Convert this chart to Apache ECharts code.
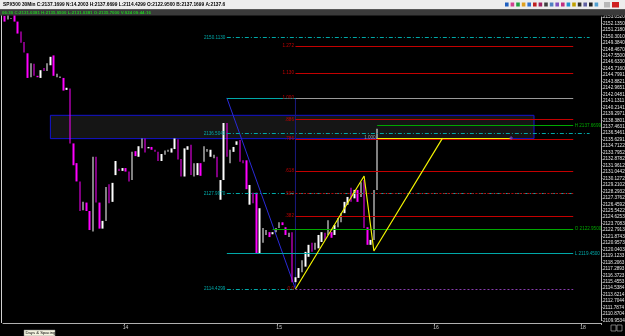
<!DOCTYPE html>
<html>
<head>
<meta charset="utf-8">
<script src="https://cdn.jsdelivr.net/npm/echarts@6/dist/echarts.min.js"></script>
<style>
  html, body { margin: 0; padding: 0; background: #000; }
  #chart { width: 625px; height: 336px; }
</style>
</head>
<body>
<div id="chart"></div>
<script>
// SPX500 30 min bars: [open, close, low, high]
const bars = [
  [2153.2, 2152.4, 2152.1, 2153.4], [2152.7, 2153.3, 2152.5, 2153.5], [2152.8, 2152.9, 2152.3, 2153.3],
  [2153.3, 2152.4, 2152.0, 2153.5], [2152.4, 2150.7, 2150.3, 2152.6], [2151.0, 2149.4, 2148.0, 2151.2],
  [2149.5, 2148.0, 2147.6, 2149.7], [2147.9, 2144.4, 2144.1, 2148.0], [2144.5, 2146.5, 2143.9, 2146.9],
  [2146.4, 2144.7, 2144.5, 2146.6], [2144.7, 2144.5, 2143.1, 2145.3], [2144.4, 2145.5, 2144.2, 2146.0],
  [2145.8, 2145.4, 2144.1, 2146.1], [2145.4, 2146.5, 2145.0, 2146.7], [2146.2, 2147.4, 2145.5, 2148.0],
  [2147.6, 2144.7, 2144.6, 2147.7], [2144.5, 2145.0, 2144.3, 2145.5], [2144.4, 2144.6, 2142.9, 2146.1],
  [2144.4, 2142.6, 2142.2, 2144.6], [2142.7, 2143.0, 2140.1, 2144.1], [2142.9, 2135.1, 2135.0, 2145.8],
  [2135.1, 2132.0, 2131.1, 2137.0], [2132.3, 2129.7, 2128.9, 2136.5], [2129.7, 2125.5, 2125.2, 2131.6],
  [2125.6, 2126.8, 2123.0, 2128.9], [2126.7, 2125.5, 2124.7, 2132.0], [2125.5, 2122.8, 2120.9, 2127.5],
  [2122.6, 2133.2, 2119.5, 2133.7], [2133.2, 2126.7, 2125.2, 2136.2], [2126.7, 2123.0, 2121.4, 2129.4],
  [2123.0, 2124.1, 2120.7, 2130.1], [2124.1, 2128.9, 2121.4, 2129.9], [2129.3, 2126.6, 2123.3, 2133.2],
  [2126.8, 2129.5, 2126.5, 2129.7], [2130.6, 2132.6, 2130.4, 2133.0], [2131.5, 2131.2, 2129.9, 2132.0],
  [2131.2, 2131.6, 2131.0, 2132.0], [2131.6, 2131.1, 2130.8, 2132.3], [2131.1, 2129.7, 2129.4, 2131.3],
  [2129.9, 2133.9, 2129.2, 2134.0], [2134.0, 2133.3, 2132.7, 2134.3], [2133.2, 2134.7, 2132.7, 2135.6],
  [2134.4, 2135.8, 2134.2, 2136.3], [2135.8, 2133.8, 2133.7, 2136.8], [2134.4, 2134.6, 2134.2, 2135.3],
  [2134.6, 2134.2, 2133.9, 2134.9], [2134.2, 2133.9, 2133.7, 2134.6], [2133.9, 2132.6, 2132.5, 2134.4],
  [2132.6, 2133.6, 2132.3, 2134.4], [2133.5, 2134.1, 2133.2, 2134.6], [2133.9, 2134.2, 2133.7, 2134.6],
  [2133.8, 2134.4, 2133.4, 2134.9], [2134.3, 2135.8, 2134.2, 2136.1], [2135.7, 2132.8, 2129.9, 2135.8],
  [2132.9, 2130.4, 2128.5, 2134.2], [2130.4, 2134.4, 2130.1, 2134.9], [2134.2, 2134.7, 2133.4, 2137.0],
  [2134.9, 2130.6, 2129.4, 2135.1], [2130.4, 2132.3, 2130.1, 2132.5], [2130.6, 2132.3, 2130.4, 2133.0],
  [2132.3, 2130.5, 2129.9, 2132.7], [2132.5, 2134.7, 2132.0, 2135.4], [2133.9, 2134.3, 2133.5, 2134.9],
  [2133.2, 2134.2, 2132.7, 2134.7], [2133.0, 2133.5, 2132.5, 2134.3], [2133.2, 2130.3, 2128.5, 2134.2],
  [2127.1, 2129.9, 2126.4, 2130.5], [2129.9, 2138.0, 2129.6, 2139.7], [2138.0, 2133.2, 2132.7, 2141.6],
  [2132.3, 2134.2, 2132.0, 2134.9], [2133.9, 2134.6, 2133.5, 2135.4], [2134.9, 2135.4, 2134.2, 2135.6],
  [2135.6, 2132.5, 2132.0, 2135.8], [2132.7, 2132.3, 2131.3, 2133.2], [2132.7, 2128.6, 2128.2, 2133.0],
  [2126.4, 2129.2, 2125.9, 2129.5], [2128.1, 2126.6, 2126.1, 2128.5], [2128.1, 2119.5, 2119.3, 2128.8],
  [2119.5, 2125.9, 2119.3, 2126.6], [2121.0, 2123.1, 2120.7, 2124.2], [2122.1, 2122.8, 2121.7, 2123.2],
  [2122.5, 2121.8, 2121.4, 2122.8], [2122.2, 2122.5, 2121.8, 2122.8], [2122.5, 2123.1, 2122.2, 2123.5],
  [2123.1, 2123.9, 2122.8, 2124.5], [2123.9, 2123.5, 2123.1, 2124.2], [2123.2, 2122.1, 2121.8, 2123.5],
  [2121.8, 2122.4, 2121.7, 2122.8], [2122.5, 2115.4, 2115.1, 2123.0], [2115.4, 2116.1, 2114.4, 2116.4],
  [2116.0, 2117.4, 2115.6, 2117.8], [2116.8, 2118.5, 2116.4, 2119.3], [2117.6, 2119.7, 2117.1, 2120.7],
  [2119.0, 2120.7, 2118.8, 2121.4], [2121.0, 2119.7, 2119.3, 2121.7], [2120.0, 2121.0, 2119.7, 2121.4],
  [2120.2, 2122.1, 2120.0, 2123.1], [2121.1, 2122.5, 2118.3, 2123.5], [2122.4, 2121.4, 2120.0, 2123.1],
  [2122.1, 2124.2, 2121.4, 2124.5], [2122.5, 2121.7, 2121.4, 2123.1], [2122.1, 2123.5, 2121.7, 2124.2],
  [2123.2, 2124.5, 2122.8, 2124.9], [2123.9, 2125.2, 2123.5, 2125.6], [2125.2, 2126.8, 2124.9, 2127.1],
  [2126.4, 2127.5, 2126.1, 2128.5], [2128.8, 2126.8, 2126.4, 2129.2], [2127.3, 2128.5, 2127.1, 2129.5],
  [2128.5, 2126.8, 2126.4, 2128.8], [2127.5, 2129.6, 2127.1, 2130.2], [2129.9, 2123.1, 2122.5, 2130.5],
  [2123.2, 2120.7, 2120.2, 2123.5], [2120.7, 2121.4, 2119.8, 2121.7], [2121.4, 2128.5, 2121.1, 2128.8],
  [2128.5, 2137.1699, 2128.2, 2137.6699]
];

const slotCount = 183;               // bar slots on the time axis, incl. empty space on the right
const dayTicks = { 37: '14', 84: '15', 132: '16', 177: '18' };

const priceMin = 2109.9534;
const priceStep = 0.916991;
const priceMax = 2153.0520;
const lastPrice = 2137.1699;

// fib retracement drawn from the swing low bar to the right edge
const fibFrom = 89;
const rightEnd = 174;
const fibRatios = ['1.272', '1.130', '1.000', '.886', '.786', '.618', '.500', '.382', '0.0'];
const fibPrices = [2148.9440, 2145.0800, 2141.5640, 2138.4700, 2135.7570, 2131.1990, 2127.9970, 2124.7950, 2114.4299];

// cyan dash-dot levels from the swing high bar
const cyanFrom = 68;
const cyanPrices = [2150.1130, 2136.5040, 2127.9970, 2114.4299];
const cyanEnds = [179, 179, 174, 89];
const cyanTags = ['28', '18', '', ''];

// session levels: tag, price, first bar
const sessionTags = ['H', 'O', 'L'];
const sessionPrices = [2137.6699, 2122.9500, 2119.4500];
const sessionFrom = [114, 82, 68];

// swing used by the fib tool
const swingHigh = [68, 2141.5640];
const swingLow = [89, 2114.4299];

// ABCD pattern and its projected level
const abcdPoints = [[89, 2114.4299], [110, 2130.47], [113, 2119.82], [134, 2135.86]];
const abcdTarget = 2135.86;
const abcdTargetFrom = 114;
const abcdTargetTo = 155;

// supply zone box
const zoneFrom = 14;
const zoneTo = 162;
const zoneTop = 2139.09;
const zoneBottom = 2135.78;

const headerText = 'SPX500 30Min C:2137.1699 N:14.2003 H:2137.6699 L:2114.4299 O:2122.9500 B:2137.1699 A:2137.6';
const statusText = '06:30 C:2131.0381 H:2135.9500 L:2131.0381 O:2135.7000 V:924 09:44:16';

const RED = '#c40000';
const CYAN = '#00a8a8';
const GREEN = '#00a800';
const tinyFont = 4.6;

function segment(from, to, price, lineStyle, label) {
  return [
    { coord: [from, price], lineStyle: lineStyle, label: label || { show: false } },
    { coord: [to, price] }
  ];
}

function tag(text, color, position) {
  return { show: true, formatter: text, color: color, fontSize: tinyFont, fontFamily: 'Liberation Sans',
    position: position, distance: 1.5 };
}

const hidden = { opacity: 0 };
const lines = [];

// cyan dash-dot lines with price on the left
cyanPrices.forEach((p, i) => {
  const st = { color: CYAN, width: 1, type: [4, 2, 1, 2] };
  lines.push(segment(cyanFrom, cyanEnds[i], p, st, tag(p.toFixed(4), CYAN, 'start')));
  if (cyanTags[i]) lines.push(segment(cyanFrom, cyanEnds[i], p, hidden, tag(cyanTags[i], CYAN, 'end')));
});
lines.push(segment(swingHigh[0], fibFrom, swingHigh[1], { color: CYAN, width: 1, type: 'solid' }));

// fib levels
fibRatios.forEach((r, i) => {
  const p = fibPrices[i];
  let color = RED, type = 'solid', right = p.toFixed(4), rightColor = RED;
  if (r === '1.000') { color = '#9a9a9a'; rightColor = '#b0b0b0'; }
  if (r === '.500') { type = [2, 2]; }
  if (r === '0.0') { color = '#8a3cb0'; type = [2, 2]; right = 'L ' + p.toFixed(4); rightColor = '#b8c800'; }
  lines.push(segment(fibFrom, rightEnd, p, { color: color, width: 1, type: type }, tag(r, RED, 'start')));
  lines.push(segment(fibFrom, rightEnd, p, hidden, tag(right, rightColor, 'end')));
});

// session high / open / low
sessionTags.forEach((t, i) => {
  const p = sessionPrices[i];
  const color = t === 'L' ? CYAN : GREEN;
  lines.push(segment(sessionFrom[i], rightEnd, p, { color: color, width: 1, type: 'solid' },
    tag(t + ' ' + p.toFixed(4), color, 'end')));
});
lines.push(segment(sessionFrom[0], rightEnd, sessionPrices[0], hidden, tag('H', GREEN, 'start')));

// ABCD projection
lines.push(segment(abcdTargetFrom, abcdTargetTo, abcdTarget, { color: '#f0f000', width: 1.2, type: 'solid' },
  tag('1.000', '#a0a0a0', 'start')));

const categories = Array.from({ length: slotCount }, (_, i) => String(i));
const wickData = bars.map(b => [b[2], b[3], b[2], b[3]]);
const bodyData = bars.map(b => [b[0], b[1], Math.min(b[0], b[1]), Math.max(b[0], b[1])]);

const chart = echarts.init(document.getElementById('chart'));

const toolColors = ['#2060c0', '#d04090', '#20a040', '#e0a020', '#3070d0', '#c02020', '#a02060', '#404040',
  '#5080c0', '#8050c0', '#c03080', '#2090d0', '#c0a000', '#303030', '#6060a0', '#202020', '#50a0d0'];

const graphics = [
  { type: 'rect', shape: { x: 0, y: 0, width: 625, height: 9.5 }, style: { fill: '#ededed' }, z: 10 },
  { type: 'rect', shape: { x: 0, y: 9.5, width: 625, height: 6 }, style: { fill: '#3a3a3a' }, z: 10 },
  { type: 'text', x: 3, y: 2.2, style: { text: headerText, fill: '#000', font: 'bold 4.8px "Liberation Sans"' }, z: 11 },
  { type: 'text', x: 2, y: 10.6, style: { text: statusText, fill: '#22c822', font: 'bold 4.4px "Liberation Sans"' }, z: 11 },
  { type: 'line', shape: { x1: 1.5, y1: 15.5, x2: 1.5, y2: 323 }, style: { stroke: '#d0d0d0', lineWidth: 1 }, z: 10 },
  { type: 'rect', shape: { x: 611, y: 325, width: 5, height: 6 }, style: { fill: 'none', stroke: '#c0c0c0', lineWidth: 0.6 }, z: 10 },
  { type: 'rect', shape: { x: 617, y: 325, width: 5, height: 6 }, style: { fill: 'none', stroke: '#c0c0c0', lineWidth: 0.6 }, z: 10 },
  { type: 'rect', shape: { x: 24, y: 330, width: 31, height: 6 }, style: { fill: '#f4f4e0', stroke: '#808080', lineWidth: 0.5 }, z: 10 },
  { type: 'text', x: 25.5, y: 331, style: { text: 'Days & Spacing', fill: '#000', font: '4.2px "Liberation Sans"' }, z: 11 }
];
toolColors.forEach((c, i) => {
  graphics.push({ type: 'rect', shape: { x: 505 + i * 5.6, y: 2.5, width: 3.6, height: 4 }, style: { fill: c }, z: 11 });
});
graphics.push({ type: 'rect', shape: { x: 604, y: 2, width: 6, height: 5.5 }, style: { fill: '#b8b8b8' }, z: 11 });
graphics.push({ type: 'rect', shape: { x: 612, y: 2, width: 7, height: 5.5 }, style: { fill: '#d02020' }, z: 11 });

const option = {
  backgroundColor: '#000',
  animation: false,
  graphic: graphics,
  grid: { left: 3, right: 24, top: 17, bottom: 15.5, containLabel: false, outerBoundsMode: 'none' },
  xAxis: {
    type: 'category',
    data: categories,
    boundaryGap: true,
    offset: 2.5,
    axisLine: { lineStyle: { color: '#b0b0b0', width: 1 } },
    axisTick: { show: true, length: 2, interval: (idx) => dayTicks[idx] !== undefined, lineStyle: { color: '#b0b0b0' } },
    axisLabel: {
      interval: (idx) => dayTicks[idx] !== undefined,
      formatter: (v, idx) => dayTicks[idx] || '',
      color: '#c8c8c8', fontSize: 5, margin: 2, fontFamily: 'Liberation Sans'
    },
    splitLine: { show: false }
  },
  yAxis: {
    type: 'value',
    position: 'right',
    min: priceMin,
    max: priceMax,
    interval: priceStep,
    scale: true,
    axisLine: { show: true, lineStyle: { color: '#b0b0b0', width: 1 } },
    axisTick: { show: true, length: 1.5, lineStyle: { color: '#b0b0b0' } },
    axisLabel: { color: '#e8e8e8', fontSize: tinyFont, margin: 2, fontFamily: 'Liberation Sans',
      formatter: (v) => v.toFixed(4) },
    splitLine: { show: false }
  },
  series: [
    {
      type: 'line',
      data: [],
      silent: true,
      z: 1,
      markArea: {
        silent: true,
        itemStyle: { color: '#151515', borderColor: '#1414d0', borderWidth: 1 },
        data: [[{ coord: [zoneFrom, zoneTop] }, { coord: [zoneTo, zoneBottom] }]]
      }
    },
    {
      type: 'line',
      data: [],
      silent: true,
      z: 2,
      markLine: { silent: true, symbol: ['none', 'none'], animation: false, data: lines }
    },
    {
      type: 'line',
      data: [swingHigh, swingLow],
      silent: true, z: 2, symbol: 'none',
      lineStyle: { color: '#2a2ad8', width: 1 }
    },
    {
      type: 'line',
      data: [[swingLow[0], swingHigh[1]], swingLow],
      silent: true, z: 2, symbol: 'none',
      lineStyle: { color: '#1a1a80', width: 1 }
    },
    {
      type: 'candlestick',
      data: wickData,
      silent: true, z: 3, clip: false,
      barWidth: 1,
      itemStyle: { color: '#747474', color0: '#747474', borderColor: '#747474', borderColor0: '#747474', borderWidth: 0 }
    },
    {
      type: 'candlestick',
      data: bodyData,
      silent: true, z: 4, clip: false,
      barWidth: 2,
      itemStyle: { color: '#ffffff', color0: '#ff00ff', borderColor: '#ffffff', borderColor0: '#ff00ff', borderWidth: 0 },
      markLine: {
        silent: true, symbol: ['none', 'none'],
        lineStyle: { opacity: 0 },
        data: [{
          yAxis: lastPrice,
          label: { show: true, position: 'end', formatter: lastPrice.toFixed(4), color: '#000', backgroundColor: '#ffffff',
            fontSize: tinyFont, fontFamily: 'Liberation Sans', padding: [0.5, 1], distance: 1.5 }
        }]
      }
    },
    {
      type: 'line',
      data: abcdPoints.map((p, i) => ({
        value: p,
        label: { show: i === 1 || i === 2, formatter: i === 1 ? 'B' : 'C', position: 'right', distance: 1,
          color: '#e0e000', fontSize: tinyFont }
      })),
      silent: true, z: 5, symbol: 'none',
      lineStyle: { color: '#f0f000', width: 1.2 }
    },
    {
      type: 'scatter',
      data: [[abcdTargetTo, abcdTarget]],
      silent: true, z: 5,
      symbol: 'diamond', symbolSize: 4,
      itemStyle: { color: '#7040c0' }
    }
  ]
};

chart.setOption(option);
</script>
</body>
</html>
